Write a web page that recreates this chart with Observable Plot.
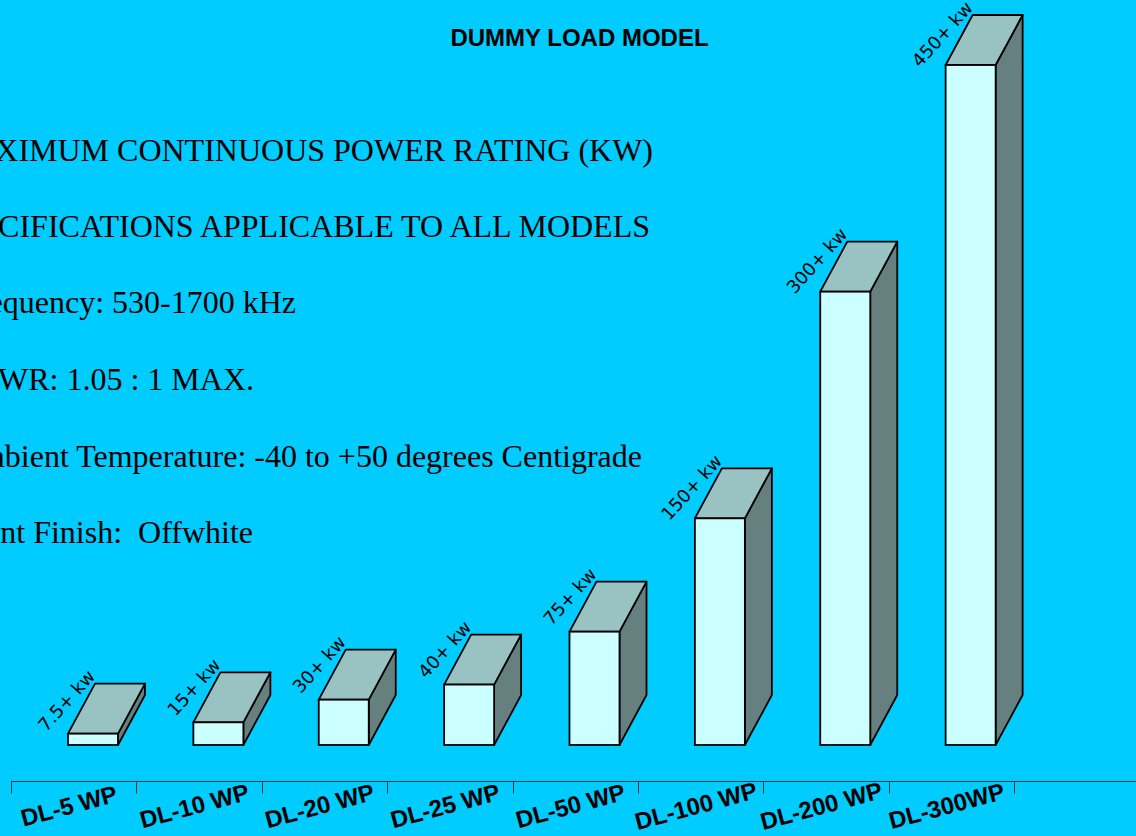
<!DOCTYPE html>
<html>
<head>
<meta charset="utf-8">
<script src="https://cdn.jsdelivr.net/npm/d3@7"></script>
<script src="https://cdn.jsdelivr.net/npm/@observablehq/plot@0.6"></script>
<style>
  html, body { margin: 0; padding: 0; background: #00ccff; }
  #wrap { position: relative; width: 1136px; height: 836px; overflow: hidden; background: #00ccff; }
  #chart { position: absolute; left: 0; top: 0; }
  .title { position: absolute; left: 0; width: 1159px; text-align: center; top: 26px;
           font-family: "Liberation Sans", Arial, sans-serif; font-weight: bold; font-size: 24px;
           line-height: 24px; color: #000; white-space: nowrap; }
  .spec { position: absolute; white-space: pre; text-align: right;
          font-family: "Liberation Serif", "Times New Roman", serif; font-size: 32px;
          line-height: 32px; color: #000; }
</style>
</head>
<body>
<div id="wrap">
  <div id="chart"></div>
</div>
<script>
// ---- data ----
const models = ["DL-5 WP", "DL-10 WP", "DL-20 WP", "DL-25 WP", "DL-50 WP", "DL-100 WP", "DL-200 WP", "DL-300WP"];
const ratings = [7.5, 15, 30, 40, 75, 150, 300, 450];
const ratingLabels = ["7.5+ kw", "15+ kw", "30+ kw", "40+ kw", "75+ kw", "150+ kw", "300+ kw", "450+ kw"];
const titleText = "DUMMY LOAD MODEL";
const specLines = [
  "MAXIMUM CONTINUOUS POWER RATING (KW)",
  "SPECIFICATIONS APPLICABLE TO ALL MODELS",
  "Frequency: 530-1700 kHz",
  "VSWR: 1.05 : 1 MAX.",
  "Ambient Temperature: -40 to +50 degrees Centigrade",
  "Paint Finish:  Offwhite"
];

const data = models.map((m, i) => ({model: m, kw: ratings[i], label: ratingLabels[i]}));

// ---- style constants ----
const FRONT_LEFT = 57, FRONT_W = 50, DEPTH_X = 27, DEPTH_Y = 50;
const STROKE_W = 1.8;

function faces(index, scales) {
  const g = d3.create("svg:g");
  const yb = scales.y(0);
  for (const d of data) {
    const x0 = scales.x(d.model) + FRONT_LEFT;
    const x1 = x0 + FRONT_W;
    const yt = scales.y(d.kw);
    g.append("path")
      .attr("d", `M${x1},${yt}L${x1 + DEPTH_X},${yt - DEPTH_Y}L${x1 + DEPTH_X},${yb - DEPTH_Y}L${x1},${yb}Z`)
      .attr("fill", "#668080").attr("stroke", "#000").attr("stroke-width", STROKE_W).attr("stroke-linejoin", "round");
    g.append("path")
      .attr("d", `M${x0},${yt}L${x1},${yt}L${x1 + DEPTH_X},${yt - DEPTH_Y}L${x0 + DEPTH_X},${yt - DEPTH_Y}Z`)
      .attr("fill", "#99c2c2").attr("stroke", "#000").attr("stroke-width", STROKE_W).attr("stroke-linejoin", "round");
  }
  return g.node();
}

function ticks(index, scales) {
  const g = d3.create("svg:g").attr("stroke", "#333").attr("stroke-width", 1);
  const y = Math.round(scales.y(0) + 36) + 0.5;
  const xs = models.map(m => scales.x(m)).concat([scales.x.range()[1]]);
  for (const x of xs) {
    const xx = Math.round(x) + 0.5;
    g.append("line").attr("x1", xx).attr("x2", xx).attr("y1", y).attr("y2", y + 12);
  }
  return g.node();
}

const chart = Plot.plot({
  width: 1136,
  height: 836,
  marginLeft: 11,
  marginRight: 0,
  marginTop: 0,
  marginBottom: 0,
  style: {background: "transparent", overflow: "visible"},
  x: {type: "band", domain: models, range: [11, 1014], padding: 0, round: false, axis: null},
  y: {type: "linear", domain: [0, 450], range: [745, 65], axis: null},
  marks: [
    faces,
    Plot.barY(data, {x: "model", y: "kw", fill: "#ccffff", stroke: "#000", strokeWidth: STROKE_W,
      insetLeft: FRONT_LEFT, insetRight: 125.375 - FRONT_LEFT - FRONT_W}),
    Plot.ruleY([0], {dy: 36, stroke: "#333", strokeWidth: 1}),
    ticks,
    Plot.text(data, {x: "model", y: "kw", text: "label", rotate: -48, textAnchor: "end", lineAnchor: "bottom",
      dx: 22, dy: -57, fontSize: 18, fontFamily: "DejaVu Sans, Verdana, sans-serif", fill: "#000"}),
    Plot.text(models, {x: d => d, y: () => 0, text: d => d, rotate: -15, dx: -5, dy: 61,
      textAnchor: "middle", lineAnchor: "middle", fontSize: 24, fontWeight: "bold",
      fontFamily: "Liberation Sans, Arial, sans-serif", fill: "#000"})
  ]
});
document.getElementById("chart").appendChild(chart);

// ---- overlay texts ----
const wrap = document.getElementById("wrap");
const t = document.createElement("div");
t.className = "title";
t.textContent = titleText;
wrap.appendChild(t);

const specRight = [653, 650, 296, 254, 642, 253];
const specBaseline = [161, 237, 313, 390, 467, 543];
specLines.forEach((s, i) => {
  const el = document.createElement("div");
  el.className = "spec";
  el.textContent = s;
  el.style.right = (1136 - specRight[i]) + "px";
  el.style.top = (specBaseline[i] - 27) + "px";
  wrap.appendChild(el);
});
</script>
</body>
</html>
